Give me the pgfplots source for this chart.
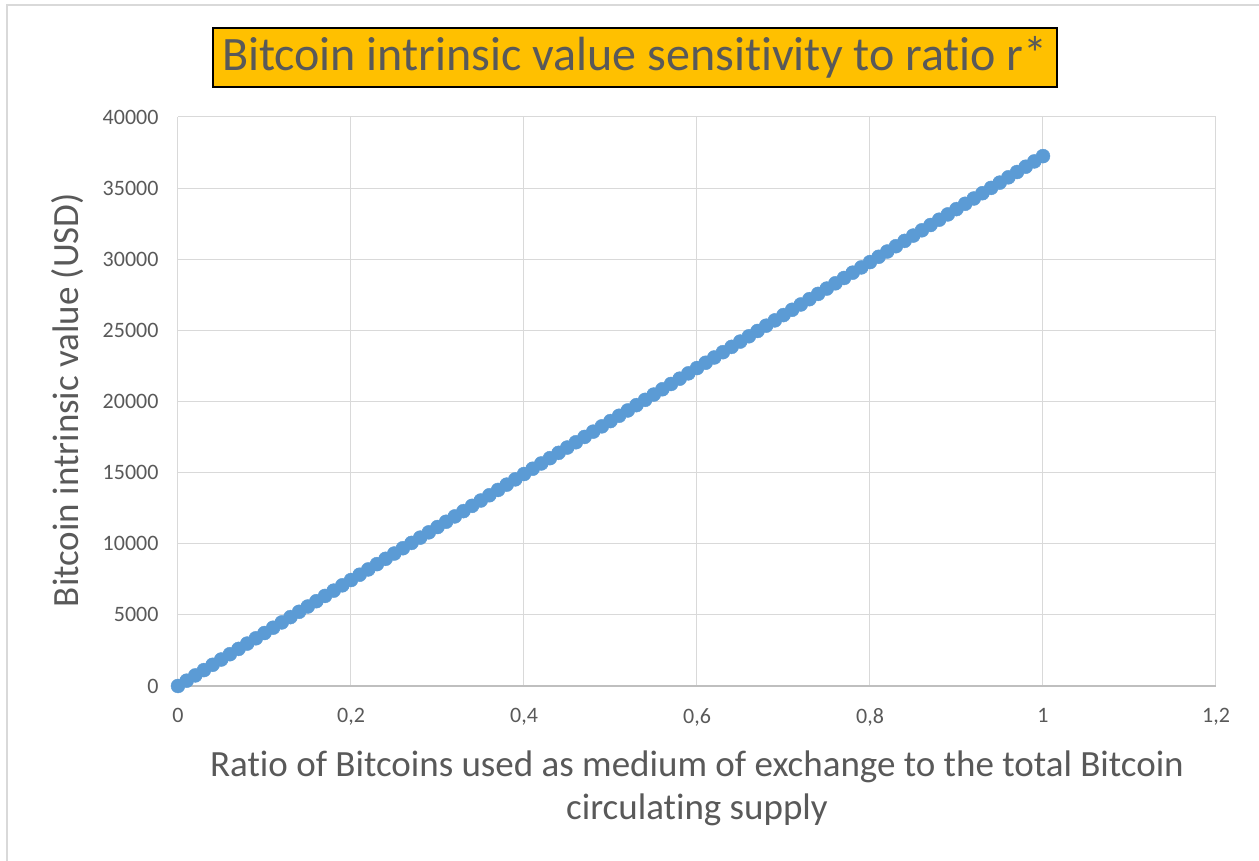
\documentclass[border=0pt]{standalone}
\usepackage{pgfplots}
\pgfplotsset{compat=1.18}
\usepackage{fontspec}
\setmainfont{Carlito}[Ligatures=NoCommon]
\definecolor{txt}{HTML}{595959}
\definecolor{gridc}{HTML}{D9D9D9}
\definecolor{axc}{HTML}{BFBFBF}
\definecolor{mk}{HTML}{5B9BD5}
\definecolor{gold}{HTML}{FFC000}
\begin{document}
\begin{tikzpicture}
\path[use as bounding box] (-178pt,-175pt) rectangle (1081pt,686pt);
\draw[gridc, line width=1.2pt] (-171pt,-200pt) -- (-171pt,681pt) -- (1100pt,681pt);
\begin{axis}[
  scale only axis, width=1038pt, height=569pt,
  xmin=0, xmax=1.2, ymin=0, ymax=40000,
  xtick={0,0.2,0.4,0.6,0.8,1,1.2},
  xticklabels={0,{0,2},{0,4},{0,6},{0,8},1,{1,2}},
  ytick={0,5000,10000,15000,20000,25000,30000,35000,40000},
  yticklabels={0,5000,10000,15000,20000,25000,30000,35000,40000},
  scaled y ticks=false,
  grid=major, major grid style={gridc, line width=1pt},
  axis line style={draw=none},
  tick style={draw=none},
  ticklabel style={font=\fontsize{22}{24}\selectfont, text=txt},
  yticklabel style={xshift=-16pt},
  xticklabel style={yshift=-19pt},
  clip=false,
]
\draw[axc, line width=1.2pt] (axis cs:0,0) -- (axis cs:1.2,0);
\addplot[only marks, mark=*, mark size=7pt, mark options={fill=mk, draw=mk}] table {
x y
0 0
0.01 372.5
0.02 745
0.03 1117.5
0.04 1490
0.05 1862.5
0.06 2235
0.07 2607.5
0.08 2980
0.09 3352.5
0.10 3725
0.11 4097.5
0.12 4470
0.13 4842.5
0.14 5215
0.15 5587.5
0.16 5960
0.17 6332.5
0.18 6705
0.19 7077.5
0.20 7450
0.21 7822.5
0.22 8195
0.23 8567.5
0.24 8940
0.25 9312.5
0.26 9685
0.27 10057.5
0.28 10430
0.29 10802.5
0.30 11175
0.31 11547.5
0.32 11920
0.33 12292.5
0.34 12665
0.35 13037.5
0.36 13410
0.37 13782.5
0.38 14155
0.39 14527.5
0.40 14900
0.41 15272.5
0.42 15645
0.43 16017.5
0.44 16390
0.45 16762.5
0.46 17135
0.47 17507.5
0.48 17880
0.49 18252.5
0.50 18625
0.51 18997.5
0.52 19370
0.53 19742.5
0.54 20115
0.55 20487.5
0.56 20860
0.57 21232.5
0.58 21605
0.59 21977.5
0.60 22350
0.61 22722.5
0.62 23095
0.63 23467.5
0.64 23840
0.65 24212.5
0.66 24585
0.67 24957.5
0.68 25330
0.69 25702.5
0.70 26075
0.71 26447.5
0.72 26820
0.73 27192.5
0.74 27565
0.75 27937.5
0.76 28310
0.77 28682.5
0.78 29055
0.79 29427.5
0.80 29800
0.81 30172.5
0.82 30545
0.83 30917.5
0.84 31290
0.85 31662.5
0.86 32035
0.87 32407.5
0.88 32780
0.89 33152.5
0.90 33525
0.91 33897.5
0.92 34270
0.93 34642.5
0.94 35015
0.95 35387.5
0.96 35760
0.97 36132.5
0.98 36505
0.99 36877.5
1.00 37250
};
\end{axis}
\node[draw=black, line width=1.2pt, fill=gold, minimum width=844pt, minimum height=59pt, inner sep=0pt, text=txt, font=\fontsize{48}{52}\selectfont] at (457pt,628.5pt) {Bitcoin intrinsic value sensitivity to ratio r*};
\node[rotate=90, text=txt, font=\fontsize{37}{40}\selectfont] at (-110pt,286pt) {Bitcoin intrinsic value (USD)};
\node[align=center, text=txt, font=\fontsize{37}{43}\selectfont] at (519pt,-102pt) {Ratio of Bitcoins used as medium of exchange to the total Bitcoin\\circulating supply};
\end{tikzpicture}
\end{document}
